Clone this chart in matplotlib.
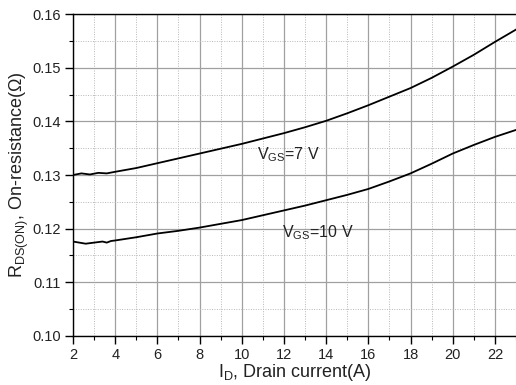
import matplotlib
matplotlib.use("Agg")
import matplotlib.pyplot as plt
from matplotlib.ticker import MultipleLocator

plt.rcParams['font.family'] = ['Liberation Sans', 'DejaVu Sans']

# Drain current (A)
id_7v = [2.0, 2.4, 2.8, 3.2, 3.6, 4.0, 5.0, 6.0, 7.0, 8.0, 9.0, 10.0, 11.0, 12.0,
         13.0, 14.0, 15.0, 16.0, 17.0, 18.0, 19.0, 20.0, 21.0, 22.0, 23.0]
rds_7v = [0.1300, 0.1303, 0.1301, 0.1304, 0.1303, 0.1306, 0.1313, 0.1322, 0.1331, 0.1340,
          0.1349, 0.1358, 0.1368, 0.1378, 0.1389, 0.1401, 0.1415, 0.1430, 0.1446, 0.1462,
          0.1481, 0.1502, 0.1524, 0.1548, 0.1571]

id_10v = [2.0, 2.3, 2.6, 3.0, 3.4, 3.6, 3.8, 4.0, 5.0, 6.0, 7.0, 8.0, 9.0, 10.0, 11.0,
          12.0, 13.0, 14.0, 15.0, 16.0, 17.0, 18.0, 19.0, 20.0, 21.0, 22.0, 23.0]
rds_10v = [0.1176, 0.1174, 0.1172, 0.1174, 0.1176, 0.1174, 0.1177, 0.1178, 0.1184, 0.1191,
           0.1196, 0.1202, 0.1209, 0.1216, 0.1225, 0.1234, 0.1243, 0.1253, 0.1263, 0.1274,
           0.1288, 0.1303, 0.1321, 0.1340, 0.1356, 0.1371, 0.1384]

x_ticks = [2, 4, 6, 8, 10, 12, 14, 16, 18, 20, 22]
y_ticks = [0.10, 0.11, 0.12, 0.13, 0.14, 0.15, 0.16]

text_color = '#222222'

fig = plt.figure(figsize=(5.16, 3.85), dpi=100)
ax = fig.add_axes([0.1415, 0.1273, 0.8585, 0.8363])

ax.plot(id_7v, rds_7v, color='black', lw=1.3)
ax.plot(id_10v, rds_10v, color='black', lw=1.3)

ax.set_xlim(2, 23)
ax.set_ylim(0.10, 0.16)
ax.set_xticks(x_ticks)
ax.set_yticks(y_ticks)
ax.set_yticklabels([f"{v:.2f}" for v in y_ticks])
ax.xaxis.set_minor_locator(MultipleLocator(1))
ax.yaxis.set_minor_locator(MultipleLocator(0.005))

ax.grid(which='major', color='#a0a0a0', lw=0.9, ls='-')
ax.grid(which='minor', color='#b8b8b8', lw=0.7, ls=(0, (1, 1.5)))
ax.set_axisbelow(True)

ax.tick_params(which='major', direction='out', length=6, width=1, labelsize=10.5,
               colors='black', labelcolor=text_color, pad=3)
ax.tick_params(which='minor', direction='out', length=3, width=0.8)
ax.spines['right'].set_visible(False)
for s in ['left', 'bottom', 'top']:
    ax.spines[s].set_linewidth(1.0)

ax.text(10.7, 0.1337, r'V$_{\mathregular{GS}}$=7 V', fontsize=11.5, ha='left', va='center',
        color=text_color)
ax.text(11.93, 0.1192, r'V$_{\mathregular{GS}}$=10 V', fontsize=11.5, ha='left', va='center',
        color=text_color)

ax.set_xlabel(r'I$_{\mathregular{D}}$, Drain current(A)', fontsize=13, labelpad=0,
              color=text_color)
ax.set_ylabel(r'R$_{\mathregular{DS(ON)}}$, On-resistance(Ω)', fontsize=13, labelpad=1,
              color=text_color)

fig.savefig('out.png', dpi=100)
